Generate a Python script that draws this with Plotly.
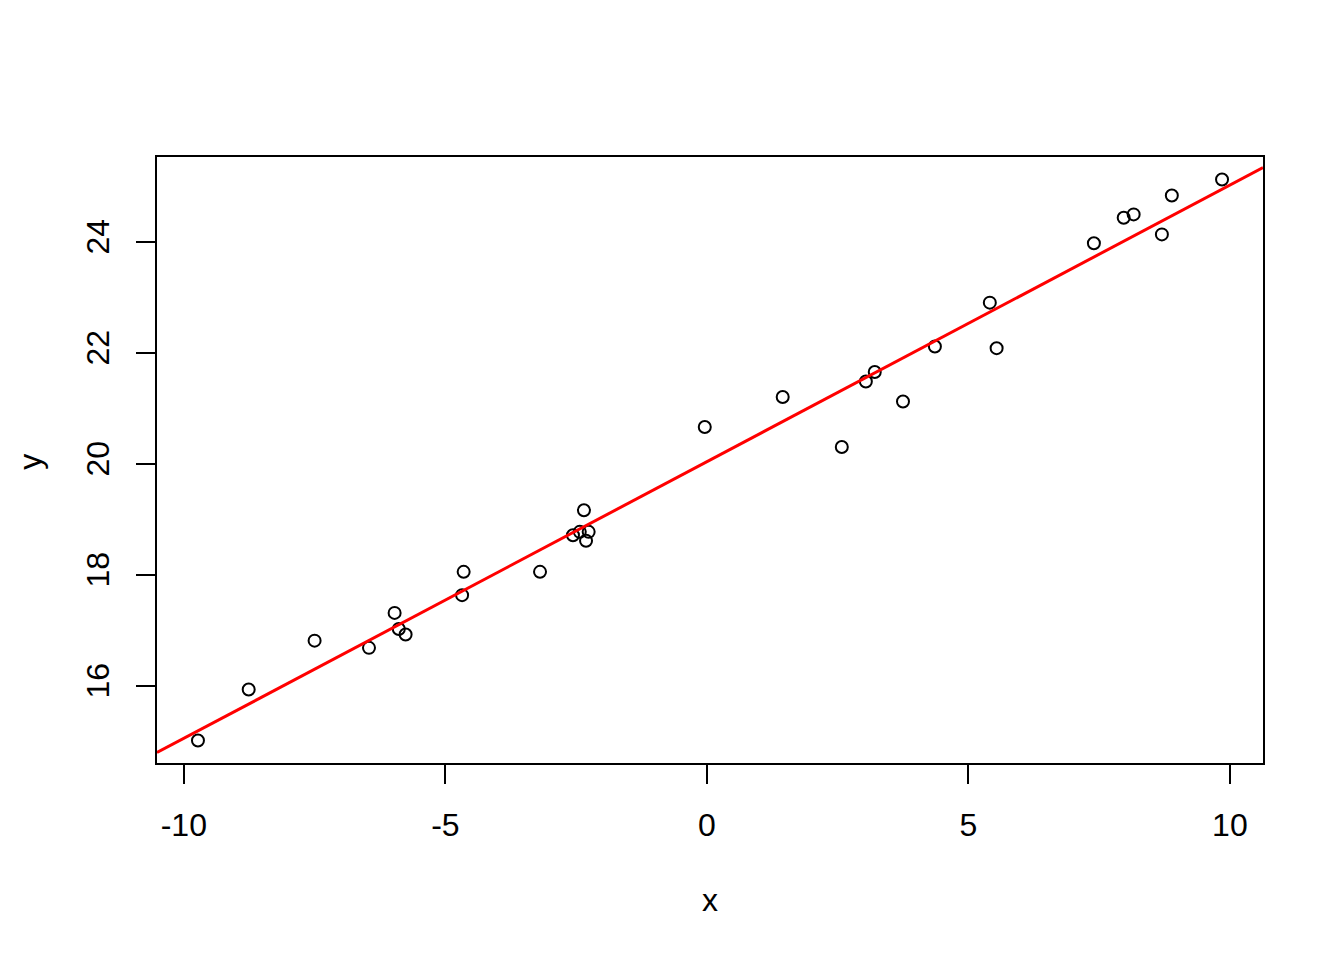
import numpy as np
import plotly.graph_objects as go

# Data
x_vals = [-9.73, -8.76, -7.50, -6.46, -5.97, -5.89, -5.76, -4.68, -4.65, -3.19,
          -2.56, -2.43, -2.35, -2.31, -2.26, -0.04, 1.45, 2.58, 3.04, 3.21,
          3.75, 4.36, 5.41, 5.54, 7.40, 7.97, 8.16, 8.70, 8.89, 9.85]
y_vals = [15.01, 15.93, 16.81, 16.68, 17.31, 17.02, 16.92, 17.63, 18.05, 18.05,
          18.71, 18.77, 19.16, 18.61, 18.77, 20.66, 21.20, 20.30, 21.48, 21.65,
          21.12, 22.11, 22.90, 22.08, 23.97, 24.43, 24.49, 24.13, 24.83, 25.12]
x_ticks = [-10, -5, 0, 5, 10]
y_ticks = [16, 18, 20, 22, 24]

x = np.array(x_vals)
y = np.array(y_vals)

def r_range(v):
    lo, hi = v.min(), v.max()
    d = (hi - lo) * 0.04
    return [lo - d, hi + d]

xr = r_range(x)
yr = r_range(y)

slope, intercept = np.polyfit(x, y, 1)
line_x = np.array(xr)
line_y = intercept + slope * line_x

FONT = "Liberation Sans, Arial, sans-serif"
FS = 32

fig = go.Figure()
fig.add_trace(go.Scatter(
    x=x, y=y, mode="markers",
    marker=dict(symbol="circle-open", size=12, color="black",
                line=dict(width=2, color="black")),
    showlegend=False, hoverinfo="skip"))
fig.add_trace(go.Scatter(
    x=line_x, y=line_y, mode="lines",
    line=dict(color="#ff0000", width=3),
    showlegend=False, hoverinfo="skip"))

axis_common = dict(
    showgrid=False, zeroline=False, showline=True, linecolor="black",
    linewidth=2, mirror=True, ticks="outside", ticklen=19, tickwidth=2,
    tickcolor="black", tickfont=dict(family=FONT, size=FS, color="black"),
)

fig.update_xaxes(range=xr, tickvals=x_ticks, ticktext=[str(t) for t in x_ticks],
                 ticklabelstandoff=14, **axis_common)
fig.update_yaxes(range=yr, tickvals=y_ticks, ticktext=[str(t) for t in y_ticks],
                 tickangle=-90, ticklabelstandoff=14, **axis_common)

fig.add_annotation(text="x", xref="paper", yref="paper", x=0.5, y=-0.226,
                   showarrow=False, font=dict(family=FONT, size=FS, color="black"),
                   xanchor="center", yanchor="middle")
fig.add_annotation(text="y", xref="paper", yref="paper", x=-0.115, y=0.497,
                   textangle=-90, showarrow=False,
                   font=dict(family=FONT, size=FS, color="black"),
                   xanchor="center", yanchor="middle")

fig.update_layout(
    width=1344, height=960,
    margin=dict(l=149, r=89, t=149, b=205),
    paper_bgcolor="white", plot_bgcolor="white",
    font=dict(family=FONT, color="black"),
)

fig.write_html("out.html")
